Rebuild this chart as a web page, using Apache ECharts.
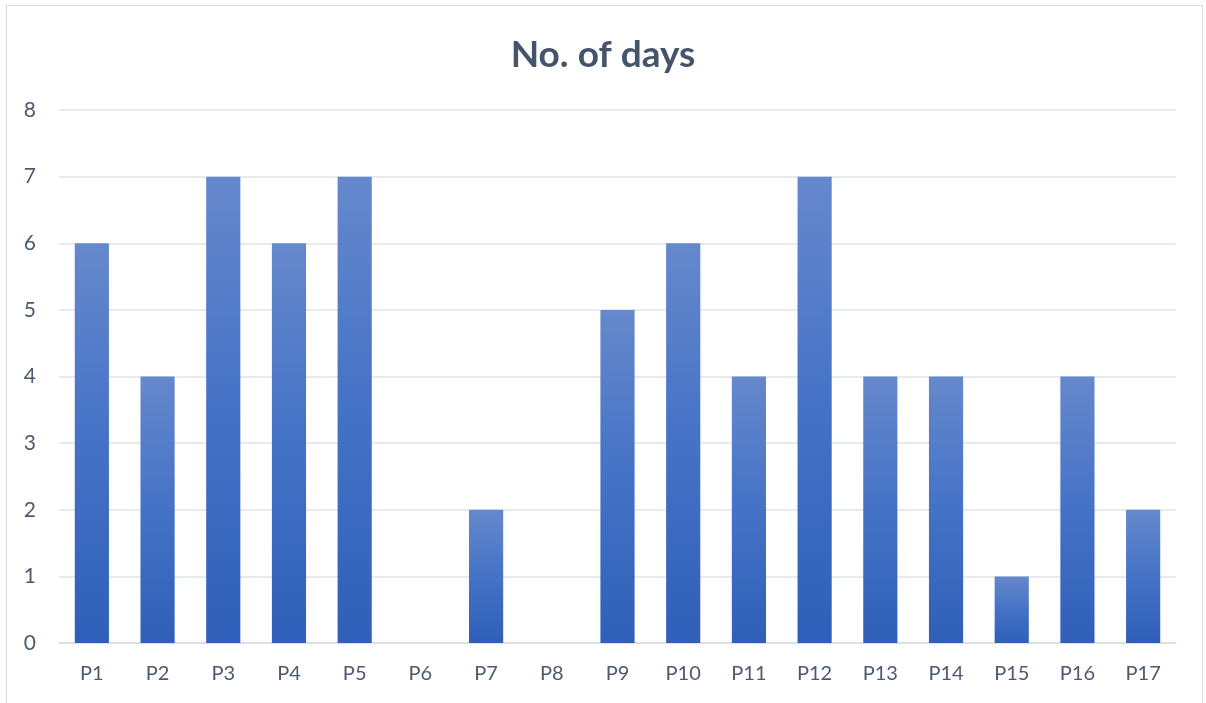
<!DOCTYPE html>
<html>
<head>
<meta charset="utf-8">
<script src="https://cdn.jsdelivr.net/npm/echarts@6/dist/echarts.min.js"></script>
<style>
html,body{margin:0;padding:0;background:#fff;}
#frame{position:absolute;left:6px;top:5px;width:1197px;height:710px;border:1.5px solid #d9dde3;box-sizing:border-box;}
#chart{position:absolute;left:0;top:0;width:1206px;height:703px;}
</style>
</head>
<body>
<div id="frame"></div>
<div id="chart"></div>
<script>
const categories = ['P1','P2','P3','P4','P5','P6','P7','P8','P9','P10','P11','P12','P13','P14','P15','P16','P17'];
const days = [6,4,7,6,7,0,2,0,5,6,4,7,4,4,1,4,2];
const yTicks = {min:0, max:8, interval:1};

const chart = echarts.init(document.getElementById('chart'), null, {renderer:'canvas'});
const fontFam = 'Lato, "Open Sans", sans-serif';
chart.setOption({
  animation:false,
  title:{
    text:'No. of days',
    left:'center',
    top:32,
    textStyle:{fontFamily:fontFam, fontWeight:'bold', fontSize:37, color:'#44546a'}
  },
  grid:{left:59, right:30, top:110, bottom:60, containLabel:false},
  xAxis:{
    type:'category',
    data:categories,
    axisLine:{show:true, lineStyle:{color:'#d9dde3', width:1.5}},
    axisTick:{show:false},
    axisLabel:{color:'#4d5a6e', fontSize:20, fontFamily:fontFam, margin:21}
  },
  yAxis:{
    type:'value',
    min:yTicks.min, max:yTicks.max, interval:yTicks.interval,
    axisLine:{show:false},
    axisTick:{show:false},
    splitLine:{lineStyle:{color:'#dfe3ea', width:1.5}},
    axisLabel:{color:'#4d5a6e', fontSize:21, fontFamily:fontFam, margin:23}
  },
  series:[{
    type:'bar',
    data:days,
    barCategoryGap:'48%',
    itemStyle:{
      color:new echarts.graphic.LinearGradient(0,0,0,1,[
        {offset:0, color:'#6688cc'},
        {offset:0.5, color:'#4472c6'},
        {offset:1, color:'#2f5fb8'}
      ])
    }
  }]
});
</script>
</body>
</html>
